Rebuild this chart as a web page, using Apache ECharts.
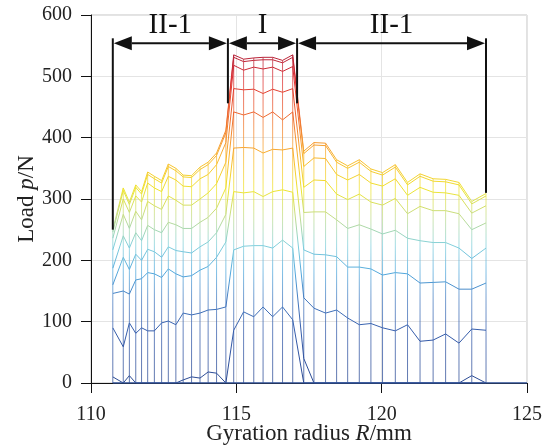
<!DOCTYPE html>
<html>
<head>
<meta charset="utf-8">
<script src="https://cdn.jsdelivr.net/npm/echarts@6/dist/echarts.min.js"></script>
<style>
  html, body { margin: 0; background: #fff; }
  #chart { width: 551px; height: 448px; }
</style>
</head>
<body>
<div id="chart"></div>
<script>
// radius of each measuring column (mm): II-1 left | I | II-1 right
const radius = [
  110.75, 111.11, 111.32, 111.54, 111.74, 111.95, 112.18, 112.43, 112.66, 112.92, 113.17, 113.46, 113.75, 114.03, 114.32, 114.64,
  114.91, 115.25, 115.6, 115.92, 116.25, 116.59, 116.94,
  117.32, 117.67, 118.07, 118.45, 118.83, 119.23, 119.63, 120.03, 120.47, 120.89, 121.32, 121.77, 122.2, 122.66, 123.1, 123.59
];

// load (N) at each column, one array per loading step
const step1 = [
  10, 0, 12, 0, 0, 0, 0, 0, 0, 0, 5, 10, 8, 18, 16, 0,
  86, 116, 108, 124, 108, 124, 103,
  0, 0, 0, 0, 0, 0, 0, 0, 0, 0, 0, 0, 0, 0, 0, 0
];
const step2 = [
  90, 59, 98, 81, 90, 85, 85, 98, 101, 95, 114, 111, 114, 119, 120, 124,
  217, 223, 224, 224, 220, 233, 220,
  40, 0, 0, 0, 0, 0, 0, 0, 0, 0, 0, 0, 0, 0, 12, 0
];
const step3 = [
  146, 150, 145, 168, 170, 180, 178, 172, 186, 178, 173, 175, 184, 190, 205, 230,
  312, 310, 312, 304, 312, 315, 311,
  139, 122, 114, 119, 106, 95, 97, 90, 85, 95, 68, 70, 80, 65, 88, 86
];
const step4 = [
  160, 205, 185, 210, 200, 218, 214, 205, 222, 216, 214, 212, 222, 230, 245, 275,
  383, 384, 383, 375, 381, 380, 383,
  217, 210, 209, 206, 189, 189, 186, 176, 180, 178, 163, 164, 165, 153, 153, 163
];
const step5 = [
  187, 240, 220, 245, 232, 257, 250, 245, 262, 258, 252, 252, 262, 270, 285, 318,
  442, 437, 442, 433, 442, 429, 442,
  278, 279, 279, 266, 252, 258, 251, 243, 249, 236, 232, 229, 229, 220, 203, 220
];
const step6 = [
  217, 275, 252, 280, 266, 296, 289, 283, 305, 298, 290, 290, 300, 310, 325, 360,
  480, 478, 479, 472, 479, 474, 480,
  319, 331, 330, 308, 299, 308, 295, 290, 301, 276, 288, 281, 281, 276, 250, 261
];
const step7 = [
  236, 300, 278, 305, 295, 326, 318, 312, 337, 331, 321, 320, 333, 340, 356, 392,
  518, 510, 515, 512, 515, 508, 516,
  353, 367, 366, 340, 331, 340, 326, 321, 333, 306, 319, 311, 310, 306, 277, 289
];
const step8 = [
  246, 314, 291, 319, 308, 340, 333, 326, 353, 346, 336, 335, 348, 356, 371, 408,
  531, 524, 526, 527, 527, 522, 531,
  374, 388, 387, 360, 350, 360, 345, 339, 352, 323, 337, 329, 328, 323, 292, 305
];
const step9 = [
  250, 318, 295, 323, 312, 344, 337, 330, 357, 350, 339, 338, 352, 360, 375, 412,
  535, 528, 530, 531, 531, 526, 535,
  378, 392, 391, 364, 354, 364, 349, 343, 356, 327, 341, 333, 332, 327, 296, 309
];
const steps = [step1, step2, step3, step4, step5, step6, step7, step8, step9];

// unloaded base line
const baseR = [110.75, 125];
const baseLoad = [0, 0];

// zone brackets
const bracketR = [110.75, 114.71, 117.09, 123.59];
const bracketLow = [250, 456, 456, 310];
const bracketTop = 562;
const arrowLoad = 554;
const zoneNames = ["II-1", "I", "II-1"];

const serif = "'Liberation Serif', 'Times New Roman', serif";
const chart = echarts.init(document.getElementById("chart"));

const stepSeries = steps.map((s) => ({
  type: "line",
  data: radius.map((r, i) => [r, s[i]]),
  symbol: "none",
  lineStyle: { width: 1 },
  silent: true,
  z: 3,
}));

const colSeries = radius.map((r, i) => ({
  type: "line",
  data: [[r, 0], ...steps.map((s) => [r, s[i]])],
  symbol: "none",
  lineStyle: { width: 1, opacity: 0.75 },
  silent: true,
  z: 2,
}));

const meshSeries = [...colSeries, ...stepSeries];

const extraSeries = [
  {
    type: "line",
    data: baseR.map((r, i) => [r, baseLoad[i]]),
    symbol: "none",
    lineStyle: { width: 1.5, color: "#34569e" },
    silent: true,
    z: 4,
  },
  {
    type: "custom",
    data: bracketR.map((r, k) => [r, bracketLow[k], bracketTop]),
    renderItem(params, api) {
      const a = api.coord([api.value(0), api.value(1)]);
      const b = api.coord([api.value(0), api.value(2)]);
      return {
        type: "line",
        shape: { x1: a[0], y1: a[1], x2: b[0], y2: b[1] },
        style: { stroke: "#111", lineWidth: 2 },
      };
    },
    silent: true,
    z: 10,
  },
  {
    type: "custom",
    data: zoneNames.map((n, k) => [bracketR[k], bracketR[k + 1], arrowLoad]),
    renderItem(params, api) {
      const a = api.coord([api.value(0), api.value(2)]);
      const b = api.coord([api.value(1), api.value(2)]);
      const L = 18, H = 7;
      const x1 = a[0] + 1, x2 = b[0] - 1;
      return {
        type: "group",
        children: [
          { type: "line", shape: { x1: x1 + L, y1: a[1], x2: x2 - L, y2: b[1] }, style: { stroke: "#111", lineWidth: 2 } },
          { type: "polygon", shape: { points: [[x1, a[1]], [x1 + L, a[1] - H], [x1 + L, a[1] + H]] }, style: { fill: "#111" } },
          { type: "polygon", shape: { points: [[x2, b[1]], [x2 - L, b[1] - H], [x2 - L, b[1] + H]] }, style: { fill: "#111" } },
          {
            type: "text",
            x: (a[0] + b[0]) / 2,
            y: a[1] - 3,
            style: {
              text: zoneNames[params.dataIndex],
              fontFamily: serif,
              fontSize: 29,
              fill: "#111",
              align: "center",
              verticalAlign: "bottom",
            },
          },
        ],
      };
    },
    silent: true,
    z: 10,
  },
];

chart.setOption({
  animation: false,
  grid: {
    left: 91, right: 24, top: 15, bottom: 65,
    outerBoundsMode: "none",
    show: true, borderColor: "#c4c4c4", borderWidth: 1,
  },
  xAxis: {
    type: "value",
    min: 110, max: 125, interval: 5,
    name: "{t|Gyration radius }{i|R}{t|/mm}",
    nameLocation: "middle",
    nameGap: 39,
    nameMoveOverlap: false,
    nameTextStyle: {
      rich: {
        t: { fontFamily: serif, fontSize: 23, color: "#222" },
        i: { fontFamily: serif, fontSize: 23, color: "#222", fontStyle: "italic" },
      },
    },
    axisLine: { lineStyle: { color: "#111", width: 1 } },
    axisTick: { inside: false, length: 10, lineStyle: { color: "#111" } },
    axisLabel: { fontFamily: serif, fontSize: 20, color: "#222", margin: 22 },
    splitLine: { show: true, lineStyle: { color: "#e4e4e4" } },
  },
  yAxis: {
    type: "value",
    min: 0, max: 600, interval: 100,
    name: "{t|Load }{i|p}{t|/N}",
    nameLocation: "middle",
    nameGap: 53,
    nameMoveOverlap: false,
    nameTextStyle: {
      rich: {
        t: { fontFamily: serif, fontSize: 23, color: "#222" },
        i: { fontFamily: serif, fontSize: 23, color: "#222", fontStyle: "italic" },
      },
    },
    axisLine: { show: true, lineStyle: { color: "#111", width: 1 } },
    axisTick: { show: true, inside: false, length: 10, lineStyle: { color: "#111" } },
    axisLabel: { fontFamily: serif, fontSize: 20, color: "#222", margin: 19 },
    splitLine: { show: true, lineStyle: { color: "#e4e4e4" } },
  },
  visualMap: {
    type: "continuous",
    show: false,
    dimension: 1,
    min: 0,
    max: 540,
    seriesIndex: meshSeries.map((s, i) => i),
    inRange: {
      color: ["#2b4a92", "#2f52a0", "#375fad", "#4479bf", "#52a8dc", "#82d0dc", "#c2dc8c",
              "#eee430", "#f8bf30", "#f48c30", "#ea5a30", "#dc3034", "#b0213a"],
    },
  },
  series: [...meshSeries, ...extraSeries],
});
</script>
</body>
</html>
